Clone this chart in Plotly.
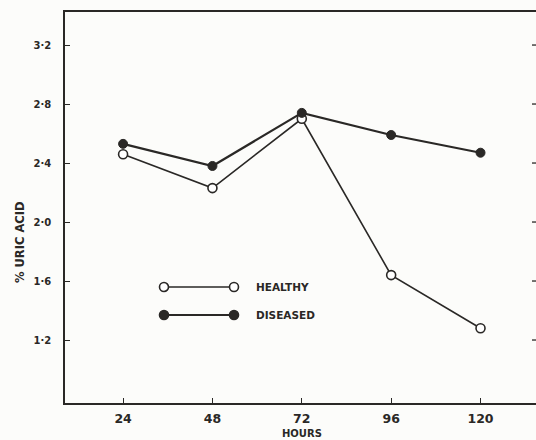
import plotly.graph_objects as go

# Sampling times (hours) and uric acid content (%)
hours = [24, 48, 72, 96, 120]
healthy = [2.46, 2.23, 2.70, 1.64, 1.28]
diseased = [2.53, 2.38, 2.74, 2.59, 2.47]

y_ticks = [1.2, 1.6, 2.0, 2.4, 2.8, 3.2]
y_tick_text = ["1·2", "1·6", "2·0", "2·4", "2·8", "3·2"]
x_ticks = [24, 48, 72, 96, 120]

INK = "#2a2826"
BG = "#fcfcfa"
FONT = "DejaVu Sans, Arial, sans-serif"

W, H = 536, 440
ML, MR, MT, MB = 65, 0, 12, 37
PW, PH = W - ML - MR, H - MT - MB
Y_RANGE = [0.773, 3.424]

fig = go.Figure()

fig.add_trace(go.Scatter(
    x=hours, y=healthy, mode="lines+markers", name="HEALTHY",
    line=dict(color=INK, width=1.6),
    marker=dict(size=9, color="white", line=dict(color=INK, width=1.6)),
))
fig.add_trace(go.Scatter(
    x=hours, y=diseased, mode="lines+markers", name="DISEASED",
    line=dict(color=INK, width=2.2),
    marker=dict(size=9, color=INK, line=dict(color=INK, width=1)),
))


def px_x(px):
    return (px - ML) / PW


def px_y(py):
    return (H - MB - py) / PH


shapes = []
annotations = []

# short tick marks on the right edge (no frame line there)
for v in y_ticks:
    shapes.append(dict(type="line", xref="paper", yref="y",
                       x0=1.0, x1=1.0 - 4.0 / PW, y0=v, y1=v,
                       line=dict(color=INK, width=1.3)))


def legend_key(py, label, filled):
    lw = 2.2 if filled else 1.6
    shapes.append(dict(type="line", xref="paper", yref="paper",
                       x0=px_x(164), x1=px_x(234), y0=px_y(py), y1=px_y(py),
                       line=dict(color=INK, width=lw)))
    for cx in (164, 234):
        shapes.append(dict(type="circle", xref="paper", yref="paper",
                           xsizemode="pixel", ysizemode="pixel",
                           xanchor=px_x(cx), yanchor=px_y(py),
                           x0=-4.5, x1=4.5, y0=-4.5, y1=4.5,
                           fillcolor=INK if filled else "white",
                           line=dict(color=INK, width=1.6)))
    annotations.append(dict(xref="paper", yref="paper", x=px_x(254), y=px_y(py),
                            xanchor="left", yanchor="middle", showarrow=False,
                            text="<b>" + label + "</b>",
                            font=dict(family=FONT, size=10.5, color=INK)))


legend_key(287, "HEALTHY", False)
legend_key(315, "DISEASED", True)

annotations.append(dict(xref="paper", yref="paper", x=px_x(302), y=px_y(433),
                        xanchor="center", yanchor="middle", showarrow=False,
                        text="<b>HOURS</b>", font=dict(family=FONT, size=10, color=INK)))
annotations.append(dict(xref="paper", yref="paper", x=px_x(20), y=px_y(242),
                        xanchor="center", yanchor="middle", showarrow=False,
                        textangle=-90, text="<b>% URIC ACID</b>",
                        font=dict(family=FONT, size=11.5, color=INK)))

fig.update_layout(
    width=W, height=H,
    margin=dict(l=ML, r=MR, t=MT, b=MB),
    paper_bgcolor=BG, plot_bgcolor=BG,
    showlegend=False,
    shapes=shapes, annotations=annotations,
    font=dict(family=FONT, color=INK),
)

fig.update_xaxes(
    range=[8.4, 134.9], tickvals=x_ticks, ticktext=[str(v) for v in x_ticks],
    ticks="inside", ticklen=5, tickwidth=1.2, tickcolor=INK,
    showline=True, linecolor=INK, linewidth=1.5, mirror=True,
    showgrid=False, zeroline=False,
    tickfont=dict(family=FONT, size=12.5, color=INK, weight="bold"),
    ticklabelstandoff=3,
)
fig.update_yaxes(
    range=Y_RANGE, tickvals=y_ticks, ticktext=y_tick_text,
    ticks="inside", ticklen=5, tickwidth=1.2, tickcolor=INK,
    showline=True, linecolor=INK, linewidth=1.5, mirror=False,
    showgrid=False, zeroline=False,
    tickfont=dict(family=FONT, size=10, color=INK, weight="bold"),
    ticklabelstandoff=10,
)

fig.write_html("out.html")
